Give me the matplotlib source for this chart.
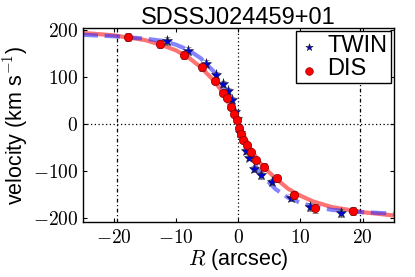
import matplotlib
matplotlib.use("Agg")
import matplotlib.pyplot as plt

plt.rcParams['font.family'] = ['Liberation Sans', 'DejaVu Sans']
plt.rcParams['mathtext.fontset'] = 'cm'

title = "SDSSJ024459+01"

# DIS (red circles)
dis_r = [-17.7, -12.6, -8.7, -5.8, -3.8, -2.5, -1.8, -1.1, -0.6, -0.25, 0.05, 0.4, 0.8, 1.35, 2.0, 2.9, 4.1, 6.2, 9.0, 12.4, 18.5]
dis_v = [184, 169, 146, 120, 91, 66, 54, 36, 21, 9, -8, -21, -35, -46, -61, -78, -91, -116, -151, -180, -186]
dis_e = [9, 8, 8, 8, 7, 6, 6, 6, 5, 5, 5, 5, 5, 5, 6, 6, 7, 8, 8, 9, 9]

# TWIN (blue stars)
twin_r = [-11.5, -8.0, -5.2, -3.6, -2.4, -1.6, -1.0, -0.5, -0.2, 0.3, 1.2, 1.8, 2.6, 3.7, 5.4, 8.4, 11.5, 16.5]
twin_v = [176, 155, 128, 103, 85, 69, 50, 25, 10, -20, -58, -72, -96, -110, -124, -157, -177, -190]
twin_e = [8, 8, 7, 7, 6, 6, 6, 5, 5, 5, 6, 6, 6, 7, 7, 8, 8, 8]

# fitted curves
red_r = [-25, -20, -15, -12, -10, -8, -6, -4, -3, -2, -1, 0, 1, 2, 3, 4, 6, 8, 10, 12, 15, 20, 25]
red_v = [193, 188, 178, 166, 156, 141, 120, 93, 76, 55, 30, 2, -27, -53, -74, -91, -116, -138, -153, -165, -177, -188, -195]
blue_r = [-25, -20, -15, -12, -10, -8, -6, -4, -3, -2, -1, 0, 1, 2, 3, 4, 6, 8, 10, 12, 15, 20, 25]
blue_v = [189, 186, 181, 176, 168, 157, 139, 112, 94, 70, 38, 0, -38, -70, -94, -112, -139, -157, -168, -176, -183, -188, -191]

xticks = [-20, -10, 0, 10, 20]
yticks = [-200, -100, 0, 100, 200]
vlines = [-19.5, 19.5]

fig = plt.figure(figsize=(4.15, 2.77), dpi=100)
ax = fig.add_axes([0.199, 0.2, 0.75, 0.698])

ax.axhline(0, color='k', ls=(0, (1, 2)), lw=0.9, zorder=1)
ax.axvline(0, color='k', ls=(0, (1, 2)), lw=0.9, zorder=1)
for xv in vlines:
    ax.axvline(xv, color='k', ls=(0, (3, 2, 1, 2)), lw=0.9, zorder=1)

ax.plot(red_r, red_v, '-', color='red', lw=3, alpha=0.55, zorder=2)
ax.plot(blue_r, blue_v, '--', color='#3333ff', lw=3, alpha=0.6, zorder=2)

ax.errorbar(twin_r, twin_v, yerr=twin_e, fmt='*', color='#0000cc', mec='0.15', mew=0.4,
            ms=8, ecolor='0.35', elinewidth=1, capsize=2, zorder=3)
ax.errorbar(dis_r, dis_v, yerr=dis_e, fmt='o', color='red', mec='#880000', mew=0.5,
            ms=6, ecolor='0.35', elinewidth=1, capsize=2, zorder=4)

ax.set_xlim(-25, 25)
ax.set_ylim(-208, 203)
ax.set_xticks(xticks)
ax.set_xticklabels([r'$%d$' % t for t in xticks])
ax.set_yticks(yticks)
ax.set_yticklabels([r'$%d$' % t for t in yticks])
ax.tick_params(direction='in', top=True, right=True, length=3, labelsize=14)
ax.tick_params(axis='y', pad=3)
ax.tick_params(axis='x', pad=5)
for s in ax.spines.values():
    s.set_linewidth(1)

ax.set_title(title, fontsize=17, pad=3)
ax.set_xlabel(r'$R$ (arcsec)', fontsize=15.5, labelpad=0)
ax.set_ylabel(r'velocity (km s$^{-1}$)', fontsize=15.5, labelpad=2)

h1 = ax.scatter([], [], marker='*', s=30, color='#0000cc', edgecolors='0.15', linewidths=0.4)
h2 = ax.scatter([], [], marker='o', s=30, color='red', edgecolors='#880000', linewidths=0.5)
leg = ax.legend([h1, h2], ['TWIN', 'DIS'], loc='upper right', fontsize=17, fancybox=False,
                framealpha=1, edgecolor='k', handlelength=0.8, handletextpad=0.4,
                borderpad=0.15, labelspacing=0.05, borderaxespad=0.12,
                scatterpoints=1, scatteryoffsets=[0.25])
leg.get_frame().set_linewidth(1)

fig.savefig('out.png', dpi=100)
